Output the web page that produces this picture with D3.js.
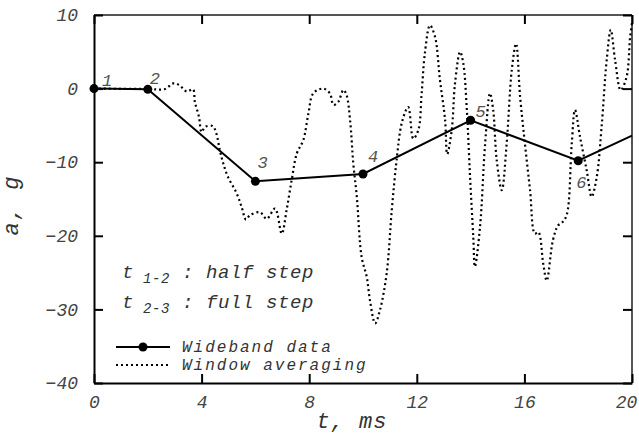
<!DOCTYPE html>
<html>
<head>
<meta charset="utf-8">
<script src="https://cdn.jsdelivr.net/npm/d3@7"></script>
<style>
  body { margin: 0; background: #fff; }
  text { font-family: "Liberation Mono", "DejaVu Sans Mono", monospace; font-style: italic; fill: #333; }
</style>
</head>
<body>
<svg id="chart"></svg>
<script>
// wideband data (measured points, numbered 1..6, plus the line end at 20 ms)
const wideT = [0, 2, 6, 10, 14, 18, 20];
const wideA = [0, -0.1, -12.6, -11.6, -4.3, -9.8, -6.4];
const wideLabels = ['1', '2', '3', '4', '5', '6', ''];

// window averaging trace
const avgT = [0, 1.97, 2.64, 2.94, 3.16, 3.45, 3.68, 3.75, 3.9, 4.0, 4.13, 4.41, 4.54, 4.68, 4.8, 4.98,
  5.3, 5.49, 5.65, 5.8, 6.17, 6.42, 6.73, 6.98, 7.16, 7.35, 7.54, 7.78, 7.97, 8.15, 8.52, 8.77, 8.9,
  9.08, 9.27, 9.39, 9.52, 9.64, 9.77, 9.95, 10.14, 10.26, 10.45, 10.63, 10.88, 11.07, 11.25, 11.44,
  11.68, 11.87, 12.06, 12.18, 12.3, 12.49, 12.68, 12.86, 13.05, 13.13, 13.3, 13.42, 13.61, 13.73,
  13.86, 13.98, 14.1, 14.16, 14.35, 14.54, 14.72, 14.84, 14.97, 15.16, 15.34, 15.53, 15.69, 15.84,
  16.02, 16.21, 16.39, 16.52, 16.7, 16.83, 17.06, 17.25, 17.4, 17.57, 17.76, 17.88, 18.07, 18.32,
  18.5, 18.69, 18.87, 19.06, 19.21, 19.37, 19.58, 19.8, 19.93, 20];
const avgA = [0, -0.05, -0.05, 0.7, 0.5, -0.4, -0.1, -1.8, -3.8, -5.9, -5.2, -5.1, -6.0, -8.4, -10.1, -12.0,
  -14.2, -16.1, -17.8, -17.2, -16.8, -17.7, -16.3, -19.7, -16.5, -12.4, -8.8, -7.0, -3.4, -0.65, 0.0, -0.65, -2.2,
  -1.8, -0.2, -0.9, -4.3, -10.2, -14.7, -22.9, -25.6, -28.8, -31.9, -30.1, -25.1, -16.5, -9.7, -4.7,
  -2.5, -6.8, -5.6, -0.65, 4.8, 8.6, 7.0, 1.2, -4.2, -8.9, -5.6, 0.7, 5.0, 3.4,
  -2.9, -12.0, -20.2, -24.2, -18.8, -7.5, -0.65, -2.9, -9.7, -13.8, -7.5, 2.5, 6.1, -1.1,
  -7.5, -13.8, -19.7, -19.5, -23.8, -26.1, -20.6, -18.6, -18.2, -17.2, -7.5, -2.9, -6.6, -11.2,
  -14.7, -12.0, -5.2, 3.9, 8.0, 3.9, -0.2, 1.6, 7.0, 8.9];

const xTicks = [0, 4, 8, 12, 16, 20];
const yTicks = [10, 0, -10, -20, -30, -40];

const notes = [
  { base: 't', sub: '1-2', rest: ' : half step' },
  { base: 't', sub: '2-3', rest: ' : full step' }
];
const legendKeys = ['Wideband data', 'Window averaging'];

// layout
const W = 639, H = 440;
const margin = { top: 15, right: 7, bottom: 57, left: 94 };
const width = W - margin.left - margin.right;
const height = H - margin.top - margin.bottom;
const labelOffsets = [[8, -3], [2, -5], [2, -13], [5, -12], [5, -3], [-2, 27], [0, 0]];
const dots = '2,3';

const svg = d3.select('#chart').attr('width', W).attr('height', H);
const chart = svg.append('g').attr('transform', `translate(${margin.left},${margin.top})`);

const x = d3.scaleLinear().domain([0, 20]).range([0, width]);
const y = d3.scaleLinear().domain([-40, 10]).range([height, 0]);

// frame: top and right edges
chart.append('line').attr('x1', 0).attr('x2', width).attr('y1', 0).attr('y2', 0)
  .attr('stroke', '#555').attr('stroke-width', 2);
chart.append('line').attr('x1', width).attr('x2', width).attr('y1', 0).attr('y2', height)
  .attr('stroke', '#555').attr('stroke-width', 2);

// inward ticks on top and right
chart.append('g').call(d3.axisTop(x).tickValues(xTicks).tickSize(-9).tickSizeOuter(0).tickFormat(''))
  .call(g => g.select('.domain').remove())
  .selectAll('line').attr('stroke', '#000').attr('stroke-width', 2);
chart.append('g').attr('transform', `translate(${width},0)`)
  .call(d3.axisRight(y).tickValues(yTicks).tickSize(-9).tickSizeOuter(0).tickFormat(''))
  .call(g => g.select('.domain').remove())
  .selectAll('line').attr('stroke', '#000').attr('stroke-width', 2);

// bottom axis
const xAxisG = chart.append('g').attr('transform', `translate(0,${height})`)
  .call(d3.axisBottom(x).tickValues(xTicks).tickSize(-9).tickSizeOuter(0).tickFormat(d3.format('d')));
xAxisG.select('.domain').attr('stroke', '#000').attr('stroke-width', 2);
xAxisG.selectAll('.tick line').attr('stroke', '#000').attr('stroke-width', 2);
xAxisG.selectAll('.tick text').attr('y', 25).attr('dy', 0)
  .attr('dx', d => d === 20 ? -6 : 0)
  .style('font-size', '18px').style('fill', '#444');

// left axis
const yAxisG = chart.append('g')
  .call(d3.axisLeft(y).tickValues(yTicks).tickSize(-9).tickSizeOuter(0)
    .tickFormat(d => d < 0 ? '\u2212' + Math.abs(d) : d));
yAxisG.select('.domain').attr('stroke', '#000').attr('stroke-width', 2);
yAxisG.selectAll('.tick line').attr('stroke', '#000').attr('stroke-width', 2);
yAxisG.selectAll('.tick text').attr('x', -16).attr('dy', '0.32em')
  .style('font-size', '18px').style('fill', '#444');

// axis titles
svg.append('text')
  .attr('transform', `translate(18,205) rotate(-90)`)
  .attr('text-anchor', 'middle')
  .style('font-size', '22px').style('letter-spacing', '2px')
  .text('a, g');
svg.append('text')
  .attr('x', 352).attr('y', 428)
  .attr('text-anchor', 'middle')
  .style('font-size', '22px').style('letter-spacing', '1px')
  .text('t, ms');

// window averaging line
const avgData = avgT.map((t, i) => ({ t: t, a: avgA[i] }));
chart.append('path')
  .datum(avgData)
  .attr('fill', 'none')
  .attr('stroke', '#000')
  .attr('stroke-width', 2.2)
  .attr('stroke-dasharray', dots)
  .attr('d', d3.line().x(d => x(d.t)).y(d => y(d.a)).curve(d3.curveCatmullRom.alpha(0.5)));

// wideband line + markers
const wideData = wideT.map((t, i) => ({ t: t, a: wideA[i], label: wideLabels[i], i: i }));
chart.append('path')
  .datum(wideData)
  .attr('fill', 'none')
  .attr('stroke', '#000')
  .attr('stroke-width', 2)
  .attr('d', d3.line().x(d => x(d.t)).y(d => y(d.a)));

chart.selectAll('.pt')
  .data(wideData.filter(d => d.label))
  .join('circle')
  .attr('class', 'pt')
  .attr('cx', d => x(d.t))
  .attr('cy', d => y(d.a))
  .attr('r', 4.5)
  .attr('fill', '#000');

chart.selectAll('.ptlabel')
  .data(wideData.filter(d => d.label))
  .join('text')
  .attr('class', 'ptlabel')
  .attr('x', d => x(d.t) + labelOffsets[d.i][0])
  .attr('y', d => y(d.a) + labelOffsets[d.i][1])
  .style('font-size', '17px').style('fill', '#555')
  .text(d => d.label);

// step notes
notes.forEach((n, i) => {
  const t = svg.append('text')
    .attr('x', 122).attr('y', 278 + i * 30)
    .style('font-size', '19px').style('letter-spacing', '0.6px');
  t.append('tspan').text(n.base);
  t.append('tspan').attr('dy', 5).style('font-size', '14px').text(' ' + n.sub);
  t.append('tspan').attr('dy', -5).text(n.rest);
});

// legend
const legend = svg.append('g').attr('transform', 'translate(116,347)');
legend.selectAll('line')
  .data(legendKeys)
  .join('line')
  .attr('x1', 0).attr('x2', 54)
  .attr('y1', (d, i) => i * 18).attr('y2', (d, i) => i * 18)
  .attr('stroke', '#000').attr('stroke-width', 2)
  .attr('stroke-dasharray', (d, i) => i === 1 ? dots : null);
legend.append('circle').attr('cx', 27).attr('cy', 0).attr('r', 4.5).attr('fill', '#000');
legend.selectAll('.lg')
  .data(legendKeys)
  .join('text')
  .attr('class', 'lg')
  .attr('x', 66)
  .attr('y', (d, i) => i * 18 + 5)
  .style('font-size', '16px').style('letter-spacing', '2px')
  .text(d => d);
</script>
</body>
</html>
